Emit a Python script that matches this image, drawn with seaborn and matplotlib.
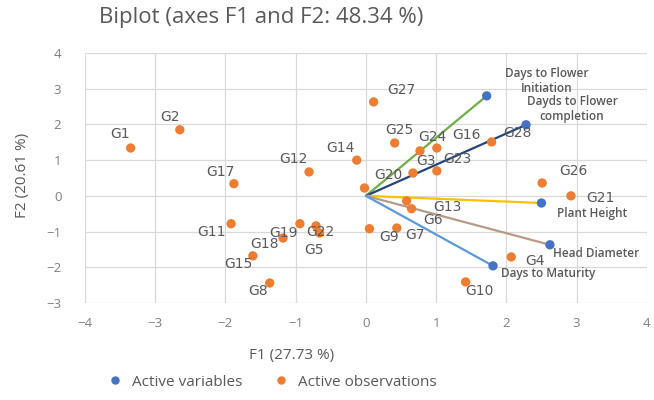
import matplotlib
matplotlib.use("Agg")
import matplotlib.pyplot as plt
import seaborn as sns
import pandas as pd

# observations (F1, F2 scores)
obs_names = ["G1", "G2", "G3", "G4", "G5", "G6", "G7", "G8", "G9", "G10",
             "G11", "G12", "G13", "G14", "G15", "G16", "G17", "G18", "G19", "G20",
             "G21", "G22", "G23", "G24", "G25", "G26", "G27", "G28"]
obs_f1 = [-3.35, -2.65, 0.67, 2.07, -0.66, 0.58, 0.44, -1.37, 0.05, 1.42,
          -1.92, -0.81, 0.65, -0.13, -1.61, 1.01, -1.88, -1.18, -0.94, -0.02,
          2.92, -0.71, 1.01, 0.77, 0.41, 2.51, 0.11, 1.79]
obs_f2 = [1.34, 1.85, 0.64, -1.71, -1.04, -0.14, -0.9, -2.44, -0.92, -2.41,
          -0.78, 0.67, -0.36, 1.0, -1.68, 1.34, 0.34, -1.18, -0.78, 0.22,
          0.0, -0.84, 0.7, 1.26, 1.48, 0.36, 2.63, 1.51]

# variables (loadings)
var_names = ["Days to Flower\nInitiation", "Dayds to Flower\ncompletion",
             "Plant Height", "Head Diameter", "Days to Maturity"]
var_f1 = [1.72, 2.28, 2.5, 2.62, 1.81]
var_f2 = [2.8, 1.99, -0.2, -1.37, -1.96]
var_line_colors = ["#70AD47", "#264478", "#FFC000", "#B89A86", "#5B9BD5"]

# label offsets in pixels (dx, dy), up is positive
obs_offsets = {
    "G1": (-11, 14), "G2": (-10, 13), "G3": (13, 12), "G4": (24, -4),
    "G5": (-6, -17), "G6": (26, -19), "G7": (18, -7), "G8": (-12, -8),
    "G9": (20, -8), "G10": (14, -9), "G11": (-20, -8), "G12": (-16, 13),
    "G13": (36, 2), "G14": (-16, 12), "G15": (-14, -8), "G16": (30, 13),
    "G17": (-13, 12), "G18": (-19, -6), "G19": (-16, -9), "G20": (24, 13),
    "G21": (29, -2), "G22": (4, -6), "G23": (21, 12), "G24": (12, 14),
    "G25": (5, 13), "G26": (31, 12), "G27": (28, 12), "G28": (26, 9),
}
var_offsets = [(60, 15, "center"), (46, 16, "center"), (51, -10, "center"),
               (3, -9, "left"), (8, -8, "left")]

sns.set_theme(style="whitegrid")
plt.rcParams["font.family"] = ["Open Sans", "DejaVu Sans"]

fig = plt.figure(figsize=(6.54, 4.0), dpi=100)
ax = fig.add_axes([0.130, 0.2425, 0.859, 0.625])

grey = "#595959"

for x, y, c in zip(var_f1, var_f2, var_line_colors):
    ax.plot([0, x], [0, y], color=c, lw=1.6, zorder=1)

df_obs = pd.DataFrame({"F1": obs_f1, "F2": obs_f2, "kind": "Active observations"})
df_var = pd.DataFrame({"F1": var_f1, "F2": var_f2, "kind": "Active variables"})
df = pd.concat([df_var, df_obs], ignore_index=True)

sns.scatterplot(data=df, x="F1", y="F2", hue="kind",
                palette={"Active variables": "#4472C4", "Active observations": "#ED7D31"},
                s=45, edgecolor="none", ax=ax, zorder=3, legend=True)

for name, x, y in zip(obs_names, obs_f1, obs_f2):
    dx, dy = obs_offsets[name]
    ax.annotate(name, (x, y), xytext=(dx, dy), textcoords="offset pixels",
                ha="center", va="center", fontsize=10, color=grey, zorder=4,
                family="DejaVu Sans")

for name, x, y, (dx, dy, ha) in zip(var_names, var_f1, var_f2, var_offsets):
    ax.annotate(name, (x, y), xytext=(dx, dy), textcoords="offset pixels",
                ha=ha, va="center", fontsize=8.5, fontweight="semibold",
                color=grey, zorder=4, linespacing=1.15, annotation_clip=False)

ax.set_xlim(-4, 4)
ax.set_ylim(-3, 4)
ax.set_xticks(range(-4, 5))
ax.set_yticks(range(-3, 5))
ax.grid(True, color="#D9D9D9", lw=0.9)
ax.set_facecolor("white")
for s in ax.spines.values():
    s.set_visible(False)
ax.tick_params(axis="both", colors="#7F7F7F", labelsize=9.5, length=0)
ax.tick_params(axis="y", pad=17)
ax.tick_params(axis="x", pad=10)
ax.set_xlabel("")
ax.set_ylabel("")

fig.text(0.40, 0.955, "Biplot (axes F1 and F2: 48.34 %)", ha="center", va="center",
         fontsize=16, color=grey)
fig.text(0.446, 0.112, "F1 (27.73 %)", ha="center", va="center", fontsize=11, color=grey)
fig.text(0.035, 0.5625, "F2 (20.61 %)", ha="center", va="center", rotation=90,
         fontsize=11, color=grey)

handles, labels = ax.get_legend_handles_labels()
ax.legend_.remove()
fig.legend(handles, labels, loc="center", bbox_to_anchor=(0.41, 0.045), ncol=2,
           frameon=False, fontsize=11, labelcolor=grey, handletextpad=0.1,
           columnspacing=1.5, markerscale=0.9)

fig.savefig("out.png", dpi=100)
